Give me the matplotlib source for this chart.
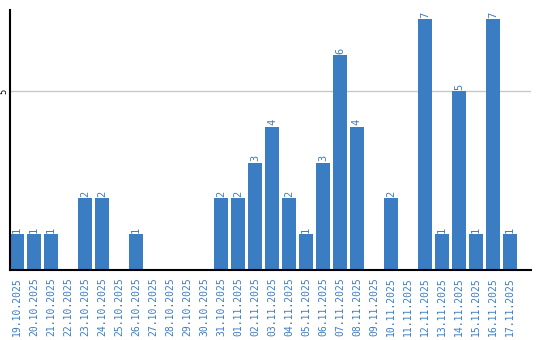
import matplotlib
matplotlib.use('Agg')
import matplotlib.pyplot as plt

dates = ['19.10.2025', '20.10.2025', '21.10.2025', '22.10.2025', '23.10.2025',
         '24.10.2025', '25.10.2025', '26.10.2025', '27.10.2025', '28.10.2025',
         '29.10.2025', '30.10.2025', '31.10.2025', '01.11.2025', '02.11.2025',
         '03.11.2025', '04.11.2025', '05.11.2025', '06.11.2025', '07.11.2025',
         '08.11.2025', '09.11.2025', '10.11.2025', '11.11.2025', '12.11.2025',
         '13.11.2025', '14.11.2025', '15.11.2025', '16.11.2025', '17.11.2025']
counts = [1, 1, 1, 0, 2, 2, 0, 1, 0, 0, 0, 0, 2, 2, 3, 4, 2, 1, 3, 6, 4, 0, 2, 0, 7, 1, 5, 1, 7, 1]

blue = '#3b7dc2'

fig = plt.figure(figsize=(5.4, 3.4), dpi=100)
ax = fig.add_axes([10/540, 1 - 270/340, 521/540, 260/340])

x = list(range(len(dates)))
ax.bar(x, counts, width=0.82, color=blue, zorder=2)
for xi, c in zip(x, counts):
    if c > 0:
        ax.text(xi, c + 0.04, str(c), rotation=90, ha='center', va='bottom',
                color=blue, fontsize=7.5, family='DejaVu Sans Mono')

ax.set_xlim(-0.41, 30.24)
ax.set_ylim(0, 7.26)
ax.set_xticks(x)
ax.set_xticklabels(dates, rotation=90, color=blue, fontsize=7, family='DejaVu Sans Mono')
ax.set_yticks([5])
ax.set_yticklabels(['5'], rotation=90, fontsize=6, va='center')
ax.tick_params(axis='x', length=0, pad=5)
ax.tick_params(axis='y', length=0, pad=1)
ax.yaxis.grid(True, color='#c8c8c8', linewidth=1, zorder=0)
ax.spines['top'].set_visible(False)
ax.spines['right'].set_visible(False)
ax.spines['left'].set_linewidth(1.5)
ax.spines['bottom'].set_linewidth(1.5)

plt.savefig('out.png', dpi=100)
